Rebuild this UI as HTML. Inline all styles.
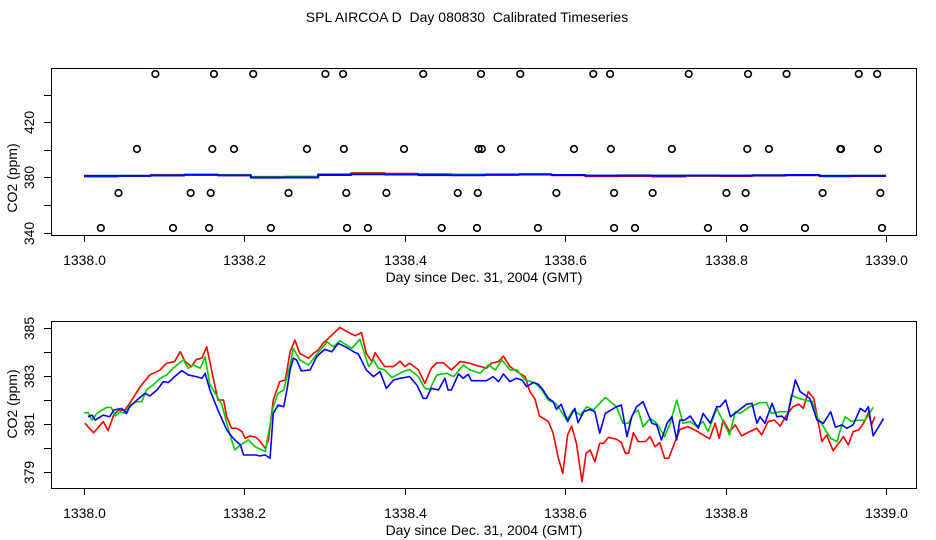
<!DOCTYPE html>
<html><head><meta charset="utf-8"><style>
html,body{margin:0;padding:0;background:#fff;}
svg{display:block;font-family:"Liberation Sans",sans-serif;}
</style></head><body>
<svg id="chart" width="936" height="540" viewBox="0 0 936 540" xmlns="http://www.w3.org/2000/svg">
<text x="467" y="22" font-size="14" text-anchor="middle" xml:space="preserve">SPL AIRCOA D  Day 080830  Calibrated Timeseries</text>
<g id="top"></g>
<g id="bot"></g>
</svg>
<script>
const xTicks=[1338.0,1338.2,1338.4,1338.6,1338.8,1339.0];
const xTickLabels=["1338.0","1338.2","1338.4","1338.6","1338.8","1339.0"];
const topYTicks=[340,360,380,400,420,440];
const topYLabels=["340","","380","","420",""];
const botYTicks=[379,380,381,382,383,384,385];
const botYLabels=["379","","381","","383","","385"];
// top circles (day fraction, ppm)
const circleDays=[.089,.162,.211,.301,.323,.423,.495,.544,.635,.656,.754,.828,.876,.966,.989,
.066,.160,.187,.278,.324,.399,.492,.496,.520,.611,.657,.733,.827,.854,.943,.944,.990,
.043,.133,.158,.255,.327,.377,.466,.491,.589,.661,.709,.801,.825,.921,.993,
.021,.111,.156,.233,.328,.354,.446,.490,.566,.661,.687,.778,.823,.899,.995];
const circleVals=[454.9,454.9,454.9,454.9,454.9,454.9,454.9,454.9,454.9,454.9,454.9,454.9,454.9,454.9,454.9,
400.5,400.5,400.5,400.5,400.5,400.5,400.5,400.5,400.5,400.5,400.5,400.5,400.5,400.5,400.5,400.5,400.5,
368.6,368.6,368.6,368.6,368.6,368.6,368.6,368.6,368.6,368.6,368.6,368.6,368.6,368.6,368.6,
343.3,343.3,343.3,343.3,343.3,343.3,343.3,343.3,343.3,343.3,343.3,343.3,343.3,343.3,343.3];
// top hourly series
const hourDays=[0,.042,.083,.125,.167,.208,.25,.292,.333,.375,.417,.458,.5,.542,.583,.625,.667,.708,.75,.792,.833,.875,.917,.958];
const topRed=[380.6,381.0,381.8,382.0,381.6,380.3,380.3,382.2,383.0,382.6,382.3,382.0,382.0,382.1,381.5,380.8,380.9,380.6,381.0,380.9,381.2,381.5,380.8,380.9];
const topGreen=[381.0,381.0,381.5,382.0,381.8,380.1,380.5,382.0,382.5,382.3,382.2,382.0,382.2,382.3,381.7,381.3,381.4,381.3,381.2,381.3,381.5,381.6,381.0,381.2];
const topBlue=[381.0,381.0,381.3,381.8,381.4,379.8,379.9,381.7,382.2,382.0,381.6,381.5,381.8,382.0,381.7,381.2,381.3,381.1,381.3,381.2,381.4,381.7,381.0,381.0];
// bottom series (day fraction, ppm)
const redDays=[.001,.012,.024,.030,.037,.043,.051,.057,.070,.082,.095,.103,.113,.120,.126,.134,.140,.147,.153,.159,.167,.174,.178,.184,.190,.197,.201,.207,.215,.219,.226,.230,.236,.244,.251,.257,.263,.269,.280,.286,.292,.298,.307,.319,.328,.338,.346,.352,.359,.363,.369,.375,.386,.394,.400,.406,.417,.425,.433,.440,.448,.458,.469,.479,.492,.502,.508,.517,.523,.531,.543,.550,.556,.562,.568,.579,.585,.591,.597,.603,.608,.614,.621,.626,.631,.637,.643,.648,.654,.664,.670,.675,.679,.685,.691,.700,.706,.712,.718,.724,.729,.737,.743,.753,.764,.772,.780,.787,.792,.797,.805,.812,.820,.830,.839,.845,.853,.861,.868,.876,.884,.891,.897,.903,.910,.920,.926,.934,.941,.947,.953,.959,.966,.972,.978,.982,.986];
const redVals=[381.02,380.62,381.09,380.71,381.36,381.57,381.57,381.85,382.55,383.04,383.25,383.53,383.60,384.01,383.60,383.39,383.69,383.74,384.22,383.25,381.99,381.99,381.29,380.81,380.81,380.67,380.39,380.49,380.42,380.28,379.97,380.32,381.99,382.76,382.83,384.01,384.50,383.94,383.74,383.94,384.08,384.36,384.64,385.03,384.85,384.68,384.81,383.94,383.60,383.97,383.67,383.39,383.39,383.62,383.39,383.53,383.25,382.69,383.32,383.55,383.55,383.25,383.60,383.55,383.41,383.32,383.53,383.60,383.83,383.39,383.11,382.97,382.34,382.06,381.32,381.09,380.60,379.62,378.92,380.53,380.90,380.18,378.57,379.76,379.90,379.41,380.18,380.18,380.43,380.35,380.21,379.76,379.76,380.62,380.25,380.25,380.46,380.04,380.21,379.55,379.55,380.25,380.76,380.88,380.69,380.53,380.37,381.02,380.39,381.15,380.67,380.95,380.49,380.67,380.81,380.53,381.09,381.15,380.90,381.36,381.71,381.82,381.64,382.34,382.06,380.25,380.53,379.87,380.18,380.46,380.11,380.67,380.74,381.02,381.46,380.95,381.29];
const greenDays=[.000,.005,.010,.016,.028,.034,.039,.045,.051,.057,.066,.072,.078,.086,.095,.103,.111,.124,.130,.136,.145,.151,.157,.165,.172,.178,.182,.188,.195,.205,.213,.226,.236,.242,.249,.257,.261,.269,.280,.288,.303,.311,.319,.334,.344,.355,.361,.367,.375,.384,.398,.406,.417,.425,.431,.440,.452,.461,.473,.481,.494,.504,.513,.521,.531,.540,.550,.562,.571,.579,.588,.594,.602,.610,.619,.627,.635,.650,.664,.672,.679,.685,.691,.697,.706,.714,.724,.731,.739,.747,.756,.764,.772,.778,.789,.795,.805,.812,.818,.830,.843,.851,.857,.868,.878,.882,.891,.899,.908,.914,.922,.931,.939,.943,.949,.957,.966,.974,.984];
const greenVals=[381.46,381.46,381.15,381.43,381.68,381.68,381.32,381.50,381.43,381.78,381.92,381.92,382.41,382.62,382.90,383.04,383.32,383.67,383.32,383.46,383.32,383.80,382.62,382.20,381.78,381.02,380.53,379.90,380.11,380.32,380.04,379.83,381.71,382.27,382.41,383.46,384.15,383.67,383.46,383.80,384.43,384.22,384.47,384.15,384.53,383.39,383.67,383.32,383.25,382.93,383.18,383.27,382.97,382.48,382.44,383.04,383.11,382.97,383.46,383.25,383.11,383.46,383.25,383.67,383.25,383.25,382.83,382.72,382.41,381.99,381.85,381.57,381.15,381.57,381.36,381.71,381.57,382.10,381.71,381.02,381.02,381.43,381.57,380.88,381.22,381.02,380.46,381.02,381.99,381.02,381.09,380.88,381.09,380.67,381.64,381.22,380.53,381.50,381.43,381.71,381.88,381.88,381.43,381.50,381.50,382.20,382.06,381.99,381.92,381.29,380.88,380.39,380.25,380.74,381.29,381.09,381.15,381.15,381.68];
const blueDays=[.005,.010,.014,.024,.032,.037,.047,.053,.057,.066,.076,.082,.091,.099,.105,.113,.122,.130,.140,.147,.151,.157,.167,.178,.186,.195,.199,.215,.219,.226,.232,.236,.242,.249,.253,.257,.261,.265,.271,.282,.290,.300,.309,.317,.328,.336,.342,.352,.361,.369,.377,.386,.394,.406,.415,.423,.427,.433,.442,.450,.454,.458,.467,.473,.479,.483,.502,.510,.517,.523,.531,.539,.546,.552,.560,.566,.571,.579,.585,.589,.595,.603,.612,.616,.623,.631,.637,.643,.650,.664,.670,.677,.683,.689,.697,.708,.714,.720,.727,.733,.739,.743,.749,.756,.766,.772,.781,.789,.793,.800,.806,.814,.826,.833,.839,.843,.849,.858,.864,.870,.876,.887,.893,.899,.905,.914,.922,.931,.937,.945,.951,.959,.968,.974,.978,.984,.997];
const blueVals=[381.29,381.36,381.15,381.36,381.29,381.57,381.64,381.43,381.71,381.99,382.27,382.16,382.41,382.76,382.72,382.97,383.22,383.04,382.97,382.90,383.11,382.41,381.57,380.74,380.39,380.11,379.69,379.69,379.65,379.69,379.55,381.43,381.78,381.71,382.41,383.25,383.74,383.67,383.21,383.25,383.80,384.11,384.01,384.36,384.18,384.01,383.92,383.25,382.97,383.18,382.48,382.83,382.90,382.97,382.62,382.06,382.06,382.48,382.41,382.90,382.41,382.41,383.08,382.90,383.07,382.80,382.80,382.97,382.76,383.08,382.76,382.90,382.83,382.55,382.72,382.66,382.48,382.06,381.92,381.60,381.81,381.09,381.64,381.04,381.50,381.60,381.50,380.60,381.43,381.71,381.78,380.46,381.29,381.71,381.92,381.02,380.95,380.32,381.02,381.29,380.32,381.15,381.15,381.32,380.81,381.43,381.02,381.71,381.71,381.99,381.29,381.50,381.81,381.85,381.02,381.29,381.02,381.85,381.29,381.32,381.15,382.83,382.34,382.20,382.06,381.15,381.02,381.50,380.85,380.95,380.81,380.95,381.64,381.50,381.71,380.49,381.22];

const NS="http://www.w3.org/2000/svg";
function mk(tag,attrs,parent){const e=document.createElementNS(NS,tag);for(const k in attrs)e.setAttribute(k,attrs[k]);parent.appendChild(e);return e;}
const X=d=>84+(d-1338)*802;
const XF=f=>84+f*802;
const topY=v=>177.3-(v-380)*1.38;
const botY=v=>471.5-(v-379)*23.9;

function panel(g,top,bottom,yTicks,yLabels,Y,titleY){
  const box=mk('rect',{x:51.5,y:top+0.5,width:865,height:bottom-top,fill:'none',stroke:'#000','stroke-width':1},g);
  
  
  const xa=mk('g',{},g);
  
  
  mk('line',{x1:X(xTicks[0]),x2:X(xTicks[xTicks.length-1]),y1:bottom+0.5,y2:bottom+0.5,stroke:'#000'},xa);
  xTicks.forEach((t,i)=>{
    const x=Math.round(X(t))+0.5;
    mk('line',{x1:x,x2:x,y1:bottom,y2:bottom+7,stroke:'#000'},xa);
    const tx=mk('text',{x:x,y:bottom+30,'font-size':14,'text-anchor':'middle'},xa);
    tx.textContent=xTickLabels[i];
    
    
  });
  const xt=mk('text',{x:484,y:bottom+47,'font-size':14,'text-anchor':'middle'},g);
  xt.textContent='Day since Dec. 31, 2004 (GMT)';
  
  
  const ya=mk('g',{},g);
  
  
  mk('line',{x1:51.5,x2:51.5,y1:Y(yTicks[0]),y2:Y(yTicks[yTicks.length-1]),stroke:'#000'},ya);
  yTicks.forEach((t,i)=>{
    const y=Math.round(Y(t))+0.5;
    mk('line',{x1:44,x2:51,y1:y,y2:y,stroke:'#000'},ya);
    if(yLabels[i]){
      const tx=mk('text',{x:0,y:0,'font-size':14,'text-anchor':'middle',transform:`translate(34,${y}) rotate(-90)`},ya);
      tx.textContent=yLabels[i];
      
      
    }
  });
  const yt=mk('text',{x:0,y:0,'font-size':14,'text-anchor':'middle',transform:`translate(17,${titleY}) rotate(-90)`},g);
  yt.textContent='CO2 (ppm)';
  
  
}
function line(g,days,vals,Y,color,name,step){
  let d='';
  days.forEach((f,i)=>{
    const x=XF(f),y=Y(vals[i]);
    if(i===0)d+=`M${x},${y}`;
    else if(step){d+=`H${x}V${y}`;}
    else d+=`L${x},${y}`;
  });
  if(step)d+=`H${XF(1)}`;
  const p=mk('path',{d:d,fill:'none',stroke:color,'stroke-width':step?2:1.6,'stroke-linejoin':'round'},g);
  
  
}
const topG=document.getElementById('top');
panel(topG,68,235,topYTicks,topYLabels,topY,178);
line(topG,hourDays,topRed,topY,'#ff0000','top-series-red',true);
line(topG,hourDays,topGreen,topY,'#00cc00','top-series-green',true);
line(topG,hourDays,topBlue,topY,'#0000ff','top-series-blue',true);
circleDays.forEach((f,i)=>{
  const c=mk('circle',{cx:XF(f),cy:topY(circleVals[i]),r:3.3,fill:'none',stroke:'#000','stroke-width':1.6},topG);
  
  
});
const botG=document.getElementById('bot');
panel(botG,321,488,botYTicks,botYLabels,botY,404);
line(botG,redDays,redVals,botY,'#ff0000','series-red',false);
line(botG,greenDays,greenVals,botY,'#00cc00','series-green',false);
line(botG,blueDays,blueVals,botY,'#0000ff','series-blue',false);
</script>
</body></html>
